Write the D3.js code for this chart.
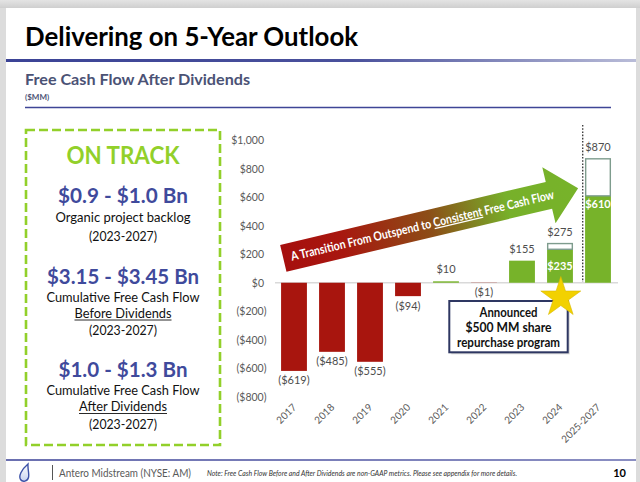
<!DOCTYPE html>
<html>
<head>
<meta charset="utf-8">
<script src="https://cdn.jsdelivr.net/npm/d3@7"></script>
<style>
  html, body { margin: 0; padding: 0; background: #fff; }
  svg { display: block; font-family: Lato, "Liberation Sans", sans-serif; }
</style>
</head>
<body>
<svg id="chart" width="640" height="482"></svg>
<script>
// ---------------- data ----------------
const categories = ["2017", "2018", "2019", "2020", "2021", "2022", "2023", "2024", "2025-2027"];
const fcfAfterDividends = [-619, -485, -555, -94, 10, -1, 155, 235, 610];
const rangeTop = [null, null, null, null, null, null, null, 275, 870];
const yTicks = [-800, -600, -400, -200, 0, 200, 400, 600, 800, 1000];
const titleText = "Delivering on 5-Year Outlook";
const subtitleText = "Free Cash Flow After Dividends";
const unitText = "($MM)";
const arrowTextParts = ["A Transition From Outspend to ", "Consistent", " Free Cash Flow"];
const calloutLines = ["Announced", "$500 MM share", "repurchase program"];
const panelHeadline = "ON TRACK";
const panelFigures = ["$0.9 - $1.0 Bn", "$3.15 - $3.45 Bn", "$1.0 - $1.3 Bn"];
const panelDescriptions = [
  ["Organic project backlog", "(2023-2027)"],
  ["Cumulative Free Cash Flow", "Before Dividends", "(2023-2027)"],
  ["Cumulative Free Cash Flow", "After Dividends", "(2023-2027)"]
];
const footerCompany = "Antero Midstream (NYSE: AM)";
const footerNote = "Note: Free Cash Flow Before and After Dividends are non-GAAP metrics. Please see appendix for more details.";
const pageNumber = "10";

// ---------------- setup ----------------
const svg = d3.select("#chart");
const defs = svg.append("defs");

const RED = "#A8150E", GREEN = "#77B32A", NAVY = "#3F4A9C", LIME = "#92D02A";
const fmt = v => v < 0 ? "($" + d3.format(",")(-v) + ")" : "$" + d3.format(",")(v);

// slide background
svg.append("rect").attr("width", 640).attr("height", 482).attr("fill", "#DCDCDC");
const shadow = defs.append("linearGradient").attr("id", "topShade").attr("x1", 0).attr("y1", 0).attr("x2", 0).attr("y2", 1);
shadow.append("stop").attr("offset", 0).attr("stop-color", "#E4E4E4");
shadow.append("stop").attr("offset", 1).attr("stop-color", "#CFCFCF");
svg.append("rect").attr("x", 0).attr("y", 0).attr("width", 640).attr("height", 8).attr("fill", "url(#topShade)");
svg.append("rect").attr("x", 6).attr("y", 8).attr("width", 630).attr("height", 474).attr("fill", "#fff");

// title
svg.append("text").attr("x", 25).attr("y", 45.5).attr("font-size", 26.5).attr("font-weight", 700)
  .attr("fill", "#000").attr("textLength", 333).attr("lengthAdjust", "spacingAndGlyphs").text(titleText);
const tl = defs.append("linearGradient").attr("id", "titleLine");
tl.append("stop").attr("offset", 0).attr("stop-color", "#3B4396");
tl.append("stop").attr("offset", 0.55).attr("stop-color", "#4A519C");
tl.append("stop").attr("offset", 1).attr("stop-color", "#B9BCD8");
svg.append("rect").attr("x", 6).attr("y", 59).attr("width", 630).attr("height", 3).attr("fill", "url(#titleLine)");

svg.append("text").attr("x", 25).attr("y", 85).attr("font-size", 14.5).attr("font-weight", 700)
  .attr("fill", "#4B5275").attr("textLength", 225).attr("lengthAdjust", "spacingAndGlyphs").text(subtitleText);
svg.append("text").attr("x", 25).attr("y", 100).attr("font-size", 8).attr("font-weight", 700)
  .attr("fill", "#4B5275").text(unitText);
svg.append("line").attr("x1", 25).attr("x2", 611).attr("y1", 107.5).attr("y2", 107.5)
  .attr("stroke", "#3F4596").attr("stroke-width", 1.6);

// ---------------- left panel ----------------
svg.append("rect").attr("x", 26).attr("y", 130).attr("width", 194).attr("height", 315)
  .attr("fill", "none").attr("stroke", LIME).attr("stroke-width", 2.6).attr("stroke-dasharray", "9,4");
const pcx = 123;
svg.append("text").attr("x", pcx).attr("y", 163.5).attr("text-anchor", "middle").attr("font-size", 24)
  .attr("font-weight", 700).attr("fill", LIME).attr("textLength", 113).attr("lengthAdjust", "spacingAndGlyphs").text(panelHeadline);

const figY = [203, 283.5, 376.5];
const figW = [130, 152, 129];
const descY = [[221.5, 241], [301.5, 317.5, 335], [395, 411, 429]];
const descW = [[135, 68], [153, 97, 68], [153, 88, 68]];
panelFigures.forEach((f, i) => {
  svg.append("text").attr("x", pcx).attr("y", figY[i]).attr("text-anchor", "middle").attr("font-size", 21.5)
    .attr("font-weight", 700).attr("fill", NAVY).attr("textLength", figW[i]).attr("lengthAdjust", "spacingAndGlyphs").text(f);
  panelDescriptions[i].forEach((d, j) => {
    svg.append("text").attr("x", pcx).attr("y", descY[i][j]).attr("text-anchor", "middle")
      .attr("font-size", 12.5).attr("fill", "#111").attr("textLength", descW[i][j]).attr("lengthAdjust", "spacingAndGlyphs").text(d);
    if (d.indexOf("Dividends") >= 0) {
      svg.append("line").attr("x1", pcx - descW[i][j] / 2).attr("x2", pcx + descW[i][j] / 2)
        .attr("y1", descY[i][j] + 2.5).attr("y2", descY[i][j] + 2.5).attr("stroke", "#111").attr("stroke-width", 0.9);
    }
  });
});

// ---------------- chart ----------------
const x = d3.scaleBand().domain(categories).range([275, 617]).paddingInner(0.32).paddingOuter(0.16);
const y = d3.scaleLinear().domain([-800, 1000]).range([396.7, 140.3]);

// y axis
const yAxis = svg.append("g").attr("transform", "translate(275,0)")
  .call(d3.axisLeft(y).tickValues(yTicks).tickSize(0).tickPadding(11).tickFormat(fmt));
yAxis.select(".domain").remove();
yAxis.selectAll("text").attr("font-size", 10.5).attr("fill", "#595959").attr("font-family", "Lato, sans-serif")
  .attr("dx", d => d < 0 ? 2.5 : 0);

// zero line
svg.append("line").attr("x1", 275).attr("x2", 618).attr("y1", y(0)).attr("y2", y(0))
  .attr("stroke", "#D9D9D9").attr("stroke-width", 1.5);

// arrow
const ax = 283.3, ay = 258.3, aAngle = -13.35;
const ag = defs.append("linearGradient").attr("id", "arrowGrad").attr("gradientUnits", "userSpaceOnUse")
  .attr("x1", 0).attr("y1", 0).attr("x2", 303).attr("y2", 0);
ag.append("stop").attr("offset", 0).attr("stop-color", "#A60F0E");
ag.append("stop").attr("offset", 0.2).attr("stop-color", "#A8170F");
ag.append("stop").attr("offset", 0.5).attr("stop-color", "#8C4E17");
ag.append("stop").attr("offset", 0.76).attr("stop-color", "#77B02A");
ag.append("stop").attr("offset", 1).attr("stop-color", "#77B32A");
const arrowG = svg.append("g").attr("transform", `translate(${ax},${ay}) rotate(${aAngle})`);
const hw = 13.75, headBase = 273, headHW = 28.7, tip = 303;
arrowG.append("path")
  .attr("d", `M0,${-hw}L${headBase},${-hw}L${headBase},${-headHW}L${tip},0L${headBase},${headHW}L${headBase},${hw}L0,${hw}Z`)
  .attr("fill", "url(#arrowGrad)");
const at = arrowG.append("text").attr("x", 8).attr("y", 4.5).attr("font-size", 12.5).attr("font-weight", 700)
  .attr("fill", "#fff").attr("textLength", 270).attr("lengthAdjust", "spacingAndGlyphs");
arrowTextParts.forEach((p, i) => {
  const ts = at.append("tspan").text(p);
  if (i === 1) ts.attr("text-decoration", "underline");
});

// dotted separator
svg.append("line").attr("x1", 582.7).attr("x2", 582.7).attr("y1", 125).attr("y2", 282)
  .attr("stroke", "#404040").attr("stroke-width", 1.4).attr("stroke-dasharray", "1.6,1.6");

// bars
const bars = categories.map((c, i) => ({ c, v: fcfAfterDividends[i], top: rangeTop[i] }));
svg.append("g").selectAll("rect.bar").data(bars).join("rect").attr("class", "bar")
  .attr("x", d => x(d.c)).attr("width", x.bandwidth())
  .attr("y", d => y(Math.max(0, d.v))).attr("height", d => Math.max(0.2, Math.abs(y(d.v) - y(0))))
  .attr("fill", d => d.v < 0 ? RED : GREEN);

// range tops (white outlined segments)
svg.append("g").selectAll("rect.rng").data(bars.filter(d => d.top !== null)).join("rect").attr("class", "rng")
  .attr("x", d => x(d.c) + 0.6).attr("width", x.bandwidth() - 1.2)
  .attr("y", d => y(d.top)).attr("height", d => y(d.v) - y(d.top))
  .attr("fill", "#fff").attr("stroke", "#7E9C8D").attr("stroke-width", 1.4);

// outer labels
svg.append("g").selectAll("text").data(bars).join("text")
  .attr("x", d => x(d.c) + x.bandwidth() / 2)
  .attr("y", d => d.v < 0 ? y(d.v) + 13.5 : y(d.top !== null ? d.top : d.v) - 8)
  .attr("text-anchor", "middle").attr("font-size", 11).attr("fill", "#4D4D4D")
  .text(d => fmt(d.top !== null ? d.top : d.v));

// inner labels for range bars
svg.append("g").selectAll("text").data(bars.filter(d => d.top !== null)).join("text")
  .attr("x", d => x(d.c) + x.bandwidth() / 2)
  .attr("y", d => {
    const h = y(0) - y(d.v);
    return h > 60 ? y(d.v) + 12.5 : (y(d.v) + y(0)) / 2 + 4;
  })
  .attr("text-anchor", "middle").attr("font-size", 11).attr("font-weight", 700).attr("fill", "#fff")
  .text(d => fmt(d.v));

// x labels
svg.append("g").selectAll("text").data(categories).join("text")
  .attr("transform", c => `translate(${x(c) + x.bandwidth() / 2 + 3},${408}) rotate(-45)`)
  .attr("text-anchor", "end").attr("font-size", 10).attr("fill", "#595959").text(c => c);

// callout box
svg.append("rect").attr("x", 451.3).attr("y", 303).attr("width", 118.4).attr("height", 51.3)
  .attr("fill", "#BDBDBD").attr("opacity", 0.6);
svg.append("rect").attr("x", 449.3).attr("y", 301).attr("width", 118.4).attr("height", 51.3)
  .attr("fill", "#fff").attr("stroke", "#2E3762").attr("stroke-width", 2);
calloutLines.forEach((l, i) => {
  svg.append("text").attr("x", 508.5).attr("y", 316.5 + i * 15).attr("text-anchor", "middle")
    .attr("font-size", 12.5).attr("font-weight", 700).attr("fill", "#111")
    .attr("textLength", [58, 86, 103][i]).attr("lengthAdjust", "spacingAndGlyphs").text(l);
});

// star
svg.append("path").attr("transform", "translate(560.8,297.5)")
  .attr("d", d3.symbol(d3.symbolStar, 21 * 21 / 0.8908130915292852)())
  .attr("fill", "#F2D100").attr("stroke", "#D9B800").attr("stroke-width", 0.6);

// ---------------- footer ----------------
const fl = defs.append("linearGradient").attr("id", "footLine");
fl.append("stop").attr("offset", 0).attr("stop-color", "#6A6FB0");
fl.append("stop").attr("offset", 1).attr("stop-color", "#8A8EC2");
svg.append("rect").attr("x", 6).attr("y", 459).attr("width", 630).attr("height", 2).attr("fill", "url(#footLine)");
const lg = defs.append("linearGradient").attr("id", "logoGrad").attr("x1", 0).attr("y1", 0).attr("x2", 0).attr("y2", 1);
lg.append("stop").attr("offset", 0).attr("stop-color", "#FFFFFF");
lg.append("stop").attr("offset", 1).attr("stop-color", "#C9D3F0");
svg.append("path").attr("d", "M28,464 C21,470 18.5,476 20.5,479.5 C22.5,482.5 27.5,481.5 28.5,477.5 C29.5,473.5 27.5,469.5 28,464 Z")
  .attr("fill", "url(#logoGrad)").attr("stroke", "#3D52A8").attr("stroke-width", 1.4);
svg.append("line").attr("x1", 52.5).attr("x2", 52.5).attr("y1", 465).attr("y2", 480).attr("stroke", "#555").attr("stroke-width", 1);
svg.append("text").attr("x", 59).attr("y", 477).attr("font-size", 11).attr("fill", "#595959")
  .attr("textLength", 132).attr("lengthAdjust", "spacingAndGlyphs").text(footerCompany);
svg.append("text").attr("x", 207).attr("y", 476).attr("font-size", 7).attr("font-style", "italic").attr("fill", "#333")
  .attr("textLength", 310).attr("lengthAdjust", "spacingAndGlyphs").text(footerNote);
svg.append("text").attr("x", 626).attr("y", 477).attr("text-anchor", "end").attr("font-size", 11)
  .attr("font-weight", 700).attr("fill", "#000").text(pageNumber);
</script>
</body>
</html>
